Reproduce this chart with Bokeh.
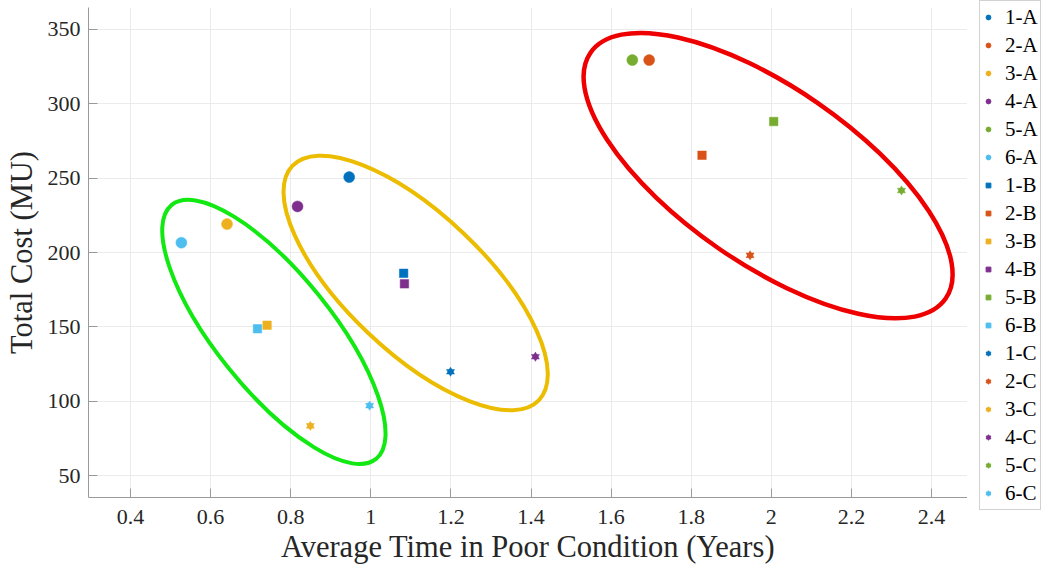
from bokeh.plotting import figure
from bokeh.models import (Range1d, FixedTicker, CustomJSTickFormatter, Legend,
                          LegendItem, ColumnDataSource)
from bokeh.layouts import row
from bokeh.embed import file_html
from bokeh.resources import INLINE

# ---------------- data ----------------
scheme_ids = ["1", "2", "3", "4", "5", "6"]
scheme_colors = ["#0072BD", "#D95319", "#EDB120", "#7E2F8E", "#77AC30", "#4DBEEE"]

# Strategy A (circles)
time_A = [0.946, 1.695, 0.641, 0.817, 1.653, 0.527]
cost_A = [250.7, 329.4, 219.1, 231.0, 329.4, 206.6]
# Strategy B (squares)
time_B = [1.082, 1.827, 0.741, 1.084, 2.006, 0.717]
cost_B = [186.0, 265.4, 151.1, 178.9, 288.1, 148.7]
# Strategy C (hexagrams)
time_C = [1.199, 1.947, 0.849, 1.411, 2.325, 0.997]
cost_C = [119.8, 198.1, 83.4, 129.9, 241.7, 97.0]

x_ticks = [0.4, 0.6, 0.8, 1.0, 1.2, 1.4, 1.6, 1.8, 2.0, 2.2, 2.4]
x_tick_labels = ["0.4", "0.6", "0.8", "1", "1.2", "1.4", "1.6", "1.8", "2", "2.2", "2.4"]
y_ticks = [50, 100, 150, 200, 250, 300, 350]
y_tick_labels = ["50", "100", "150", "200", "250", "300", "350"]

# cluster ellipses: centre (data), full axes (screen px), tilt (deg)
ell_x = [0.758, 1.112, 1.992]
ell_y = [146.6, 179.5, 251.7]
ell_w = [326, 340, 432]
ell_h = [116, 138, 176]
ell_angle = [-51.2, -43.5, -34.7]
ell_color = ["#12E812", "#ECBC00", "#EE0000"]
ell_lw = [4.0, 4.0, 4.5]

FONT = "Liberation Serif"
TXT = "#262626"

# ---------------- main figure ----------------
p = figure(width=967, height=566,
           x_range=Range1d(0.2951, 2.4899), y_range=Range1d(35.23, 364.77),
           output_backend="svg", toolbar_location=None,
           min_border_left=88, min_border_right=0, min_border_top=7, min_border_bottom=0)
p.outline_line_color = None
p.background_fill_color = "white"
p.border_fill_color = "white"

ell_src = ColumnDataSource(dict(x=ell_x, y=ell_y, w=ell_w, h=ell_h, a=ell_angle,
                                c=ell_color, lw=ell_lw))
p.ellipse(x="x", y="y", width="w", height="h", angle="a", source=ell_src,
          width_units="screen", height_units="screen", angle_units="deg",
          fill_color=None, line_color="c", line_width="lw")

for col, xv, yv in zip(scheme_colors, time_A, cost_A):
    p.scatter([xv], [yv], marker="circle", size=11, fill_color=col, line_color=col, line_width=0.5)
for col, xv, yv in zip(scheme_colors, time_B, cost_B):
    p.scatter([xv], [yv], marker="square", size=8.5, fill_color=col, line_color=col, line_width=0.5)
for col, xv, yv in zip(scheme_colors, time_C, cost_C):
    p.scatter([xv], [yv], marker="triangle", size=8, fill_color=col, line_color=col, line_width=0.5)
    p.scatter([xv], [yv], marker="inverted_triangle", size=8, fill_color=col, line_color=col, line_width=0.5)

fmt_code = "const i = vals.findIndex(t => Math.abs(t - tick) < 1e-9); return i >= 0 ? labs[i] : '';"
p.xaxis.ticker = FixedTicker(ticks=x_ticks)
p.xaxis.formatter = CustomJSTickFormatter(args=dict(vals=x_ticks, labs=x_tick_labels), code=fmt_code)
p.yaxis.ticker = FixedTicker(ticks=y_ticks)
p.yaxis.formatter = CustomJSTickFormatter(args=dict(vals=y_ticks, labs=y_tick_labels), code=fmt_code)

p.xaxis.axis_label = "Average Time in Poor Condition (Years)"
p.yaxis.axis_label = "Total Cost (MU)"
for ax in (p.xaxis, p.yaxis):
    ax.axis_label_text_font = FONT
    ax.axis_label_text_font_size = "30.5px"
    ax.axis_label_text_font_style = "normal"
    ax.axis_label_text_color = TXT
    ax.major_label_text_font = FONT
    ax.major_label_text_font_size = "22px"
    ax.major_label_text_color = TXT
    ax.axis_line_color = "#9a9a9a"
    ax.major_tick_line_color = "#9a9a9a"
    ax.major_tick_in = 9
    ax.major_tick_out = 0
    ax.minor_tick_line_color = None
p.xaxis.major_label_standoff = 12
p.xaxis.axis_label_standoff = 3
p.yaxis.major_label_standoff = 8
p.yaxis.axis_label_standoff = 6

p.xgrid.ticker = FixedTicker(ticks=x_ticks)
p.ygrid.ticker = FixedTicker(ticks=y_ticks)
p.grid.grid_line_color = "#ebebeb"
p.grid.grid_line_width = 1

# ---------------- legend panel ----------------
lf = figure(width=75, height=566, output_backend="svg", toolbar_location=None,
            x_axis_type=None, y_axis_type=None, min_border=0,
            x_range=Range1d(0, 1), y_range=Range1d(0, 1))
lf.frame_align = False
lf.outline_line_color = None
lf.grid.visible = False
lf.border_fill_color = "white"
lf.background_fill_color = "white"

# proxies (same data, lying outside this panel's view) that carry the legend glyphs
items = []
for sid, col, xv, yv in zip(scheme_ids, scheme_colors, time_A, cost_A):
    r = lf.scatter([xv], [yv], marker="circle", fill_color=col, line_color=col)
    items.append(LegendItem(label=f"{sid}-A", renderers=[r]))
for sid, col, xv, yv in zip(scheme_ids, scheme_colors, time_B, cost_B):
    r = lf.scatter([xv], [yv], marker="square", fill_color=col, line_color=col)
    items.append(LegendItem(label=f"{sid}-B", renderers=[r]))
for sid, col, xv, yv in zip(scheme_ids, scheme_colors, time_C, cost_C):
    r1 = lf.scatter([xv], [yv], marker="triangle", fill_color=col, line_color=col)
    r2 = lf.scatter([xv], [yv], marker="inverted_triangle", fill_color=col, line_color=col)
    items.append(LegendItem(label=f"{sid}-C", renderers=[r1, r2]))

legend = Legend(items=items, location=(12, 56), margin=0, padding=2,
                glyph_width=12, glyph_height=28, label_height=28, spacing=0,
                label_standoff=11, label_text_font=FONT, label_text_font_size="21px",
                label_text_color="#000000", border_line_color="#a6a6a6",
                border_line_width=1, background_fill_color="white", background_fill_alpha=1.0)
lf.add_layout(legend, "center")

layout = row(p, lf)
open("out.html", "w").write(file_html(layout, INLINE))
